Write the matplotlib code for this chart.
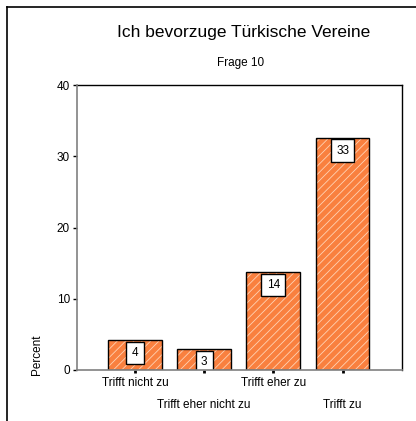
import matplotlib
matplotlib.use("Agg")
import matplotlib.pyplot as plt
from matplotlib.lines import Line2D
from matplotlib.transforms import ScaledTranslation

categories = ["Trifft nicht zu", "Trifft eher nicht zu", "Trifft eher zu", "Trifft zu"]
percent = [4.2, 2.9, 13.75, 32.6]
shown = [4, 3, 14, 33]

plt.rcParams["font.family"] = ["Liberation Sans", "DejaVu Sans"]
plt.rcParams["hatch.linewidth"] = 0.6

W, H = 416, 421
fig = plt.figure(figsize=(W / 100, H / 100), dpi=100)
ax = fig.add_axes([77 / W, 1 - 370 / H, (402 - 77) / W, (370 - 85) / H])

x = list(range(len(categories)))
orange = "#f9803f"
ax.bar(x, percent, width=0.78, color=orange, edgecolor="#ffd2b4", hatch="////", linewidth=0)
ax.bar(x, percent, width=0.78, fill=False, edgecolor="black", linewidth=1)

for xi, v, s in zip(x, percent, shown):
    t = ax.annotate(str(s), (xi, v), xytext=(0, -5.0), textcoords="offset points",
                    ha="center", va="top", fontsize=8.5,
                    bbox=dict(boxstyle="square,pad=0.45", fc="white", ec="black", lw=1))
    t.get_bbox_patch().set_clip_box(ax.bbox)
    t.get_bbox_patch().set_clip_on(True)

ax.set_xlim(-0.84, 3.86)
ax.set_ylim(0, 40)
ax.set_yticks([0, 10, 20, 30, 40])
ax.set_xticks(x, categories)
ax.tick_params(axis="y", length=3, width=1, labelsize=8.5, pad=2)
ax.tick_params(axis="x", length=2, width=2, labelsize=8.5, pad=3)
for i, lbl in enumerate(ax.get_xticklabels()):
    if i % 2:
        lbl.set_transform(lbl.get_transform() + ScaledTranslation(0, -0.22, fig.dpi_scale_trans))

for side in ["left", "bottom"]:
    ax.spines[side].set_color("#808080")
    ax.spines[side].set_linewidth(1.2)
    ax.spines[side].set_zorder(5)
for side in ["top", "right"]:
    ax.spines[side].set_color("black")
    ax.spines[side].set_linewidth(1)

fig.text(37 / W, 1 - 355 / H, "Percent", rotation=90, ha="center", va="center", fontsize=8.5)
fig.text(244 / W, 1 - 33 / H, "Ich bevorzuge Türkische Vereine", ha="center", va="center", fontsize=12.5)
fig.text(241 / W, 1 - 63 / H, "Frage 10", ha="center", va="center", fontsize=8.5)

# outer frame (cut off on right and bottom)
fig.add_artist(Line2D([7 / W, 1], [1 - 7 / H, 1 - 7 / H], color="black", lw=1.2))
fig.add_artist(Line2D([7 / W, 7 / W], [0, 1 - 7 / H], color="black", lw=1.2))

fig.savefig("out.png", dpi=100)
